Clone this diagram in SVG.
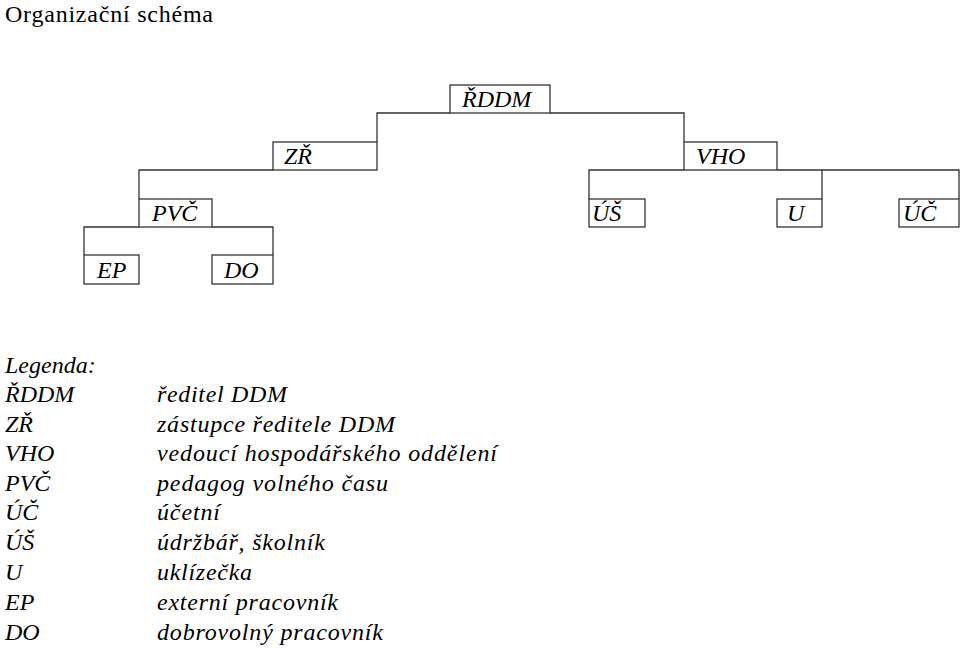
<svg xmlns="http://www.w3.org/2000/svg" width="960" height="648" viewBox="0 0 960 648">
<style>
.box{fill:none;stroke:#333;stroke-width:1.3}
.con{fill:none;stroke:#333;stroke-width:1.3}
.lbl{font-family:'Liberation Serif','Times New Roman','DejaVu Serif',serif;font-style:italic;font-size:24px;fill:#000}
.title{font-family:'Liberation Serif','Times New Roman','DejaVu Serif',serif;font-size:24px;fill:#000}
</style>
<rect width="960" height="648" fill="#fff"/>
<text class="title" x="5" y="21.5" textLength="208">Organizační schéma</text>
<g id="connectors">
<polyline class="con" points="450,113 377,113 377,142"/>
<polyline class="con" points="550,113 684,113 684,142"/>
<polyline class="con" points="273,170 139,170 139,199"/>
<polyline class="con" points="139,227 84,227 84,255"/>
<polyline class="con" points="212,227 273,227 273,255"/>
<polyline class="con" points="684,170 589,170 589,199"/>
<polyline class="con" points="777,170 959,170 959,199"/>
<line class="con" x1="822" y1="170" x2="822" y2="199"/>
</g>
<g id="n-rddm"><rect class="box" x="450" y="85" width="100" height="28"/><text class="lbl" x="462" y="107">ŘDDM</text></g>
<g id="n-zr"><rect class="box" x="273" y="142" width="104" height="28"/><text class="lbl" x="284" y="164">ZŘ</text></g>
<g id="n-vho"><rect class="box" x="684" y="142" width="93" height="28"/><text class="lbl" x="696" y="164">VHO</text></g>
<g id="n-pvc"><rect class="box" x="139" y="199" width="73" height="28"/><text class="lbl" x="152" y="221">PVČ</text></g>
<g id="n-us"><rect class="box" x="589" y="199" width="56" height="28"/><text class="lbl" x="592" y="221">ÚŠ</text></g>
<g id="n-u"><rect class="box" x="777" y="199" width="45" height="28"/><text class="lbl" x="787" y="221">U</text></g>
<g id="n-uc"><rect class="box" x="899" y="199" width="60" height="28"/><text class="lbl" x="903" y="221">ÚČ</text></g>
<g id="n-ep"><rect class="box" x="84" y="255" width="55" height="29"/><text class="lbl" x="97" y="278">EP</text></g>
<g id="n-do"><rect class="box" x="212" y="255" width="61" height="29"/><text class="lbl" x="224" y="278">DO</text></g>
<g id="legend" class="lbl">
<text x="5" y="373">Legenda:</text>
<text x="5" y="402">ŘDDM</text><text x="157" y="402" textLength="130">ředitel DDM</text>
<text x="5" y="432">ZŘ</text><text x="157" y="432" textLength="238">zástupce ředitele DDM</text>
<text x="5" y="461">VHO</text><text x="157" y="461" textLength="340">vedoucí hospodářského oddělení</text>
<text x="5" y="491">PVČ</text><text x="157" y="491" textLength="231">pedagog volného času</text>
<text x="5" y="520">ÚČ</text><text x="157" y="520" textLength="63">účetní</text>
<text x="5" y="550">ÚŠ</text><text x="157" y="550" textLength="168">údržbář, školník</text>
<text x="5" y="580">U</text><text x="157" y="580" textLength="95">uklízečka</text>
<text x="5" y="610">EP</text><text x="157" y="610" textLength="181">externí pracovník</text>
<text x="5" y="640">DO</text><text x="157" y="640" textLength="226">dobrovolný pracovník</text>
</g>
</svg>
